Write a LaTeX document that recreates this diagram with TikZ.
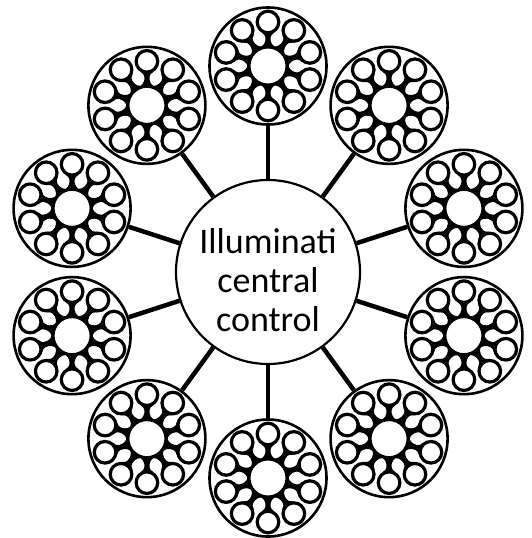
\documentclass[tikz,border=0pt]{standalone}
\usepackage{fontspec}
\setmainfont{Carlito}
\begin{document}
\begin{tikzpicture}[x=1pt,y=-1pt,
  hub/.style={circle,draw,line width=2.2pt,minimum size=184pt,inner sep=0pt},
  cluster/.style={circle,draw,line width=2.6pt,minimum size=117pt,inner sep=0pt},
  core/.style={circle,draw,fill=white,line width=3pt,minimum size=38pt,inner sep=0pt},
  leaf/.style={circle,draw,fill=white,line width=3.2pt,minimum size=21.6pt,inner sep=0pt},
  link/.style={line width=4.5pt},
  spoke/.style={line width=4.8pt},
  fillet/.style={fill=black}]
\useasboundingbox (0,0) rectangle (532,538);
\node[hub] (C) at (268,272) {};
\node[font=\fontsize{36}{39}\selectfont, align=center, inner sep=0pt] (T) at ([yshift=-8.5pt]C.center) {Illuminati\\central\\control};
\foreach \k in {0,...,9}{
  \pgfmathsetmacro\a{90+36*\k}
  \coordinate (p\k) at ({268+206*cos(\a)},{272-206*sin(\a)});
  \node[cluster] (c\k) at (p\k) {};
  \draw[link] (C) -- (c\k);
  \foreach \j in {0,...,9}{
    \pgfmathsetmacro\b{90+36*\j}
    \begin{scope}[shift={(p\k)}, rotate=\b]
      \fill[fillet] (18.5,-7.5) .. controls (22,-3.5) .. (25.5,-2.6) -- (28.5,-2.6) .. controls (31,-3.2) .. (33.5,-6.5)
        -- (33.5,6.5) .. controls (31,3.2) .. (28.5,2.6) -- (25.5,2.6) .. controls (22,3.5) .. (18.5,7.5) -- cycle;
    \end{scope}
  }
  \node[core] (h\k) at (p\k) {};
  \foreach \j in {0,...,9}{
    \pgfmathsetmacro\b{90+36*\j}
    \node[leaf] (s\k-\j) at ({268+206*cos(\a)+44*cos(\b)},{272-206*sin(\a)-44*sin(\b)}) {};
    \draw[spoke] (h\k) -- (s\k-\j);
  }
}
\end{tikzpicture}
\end{document}
